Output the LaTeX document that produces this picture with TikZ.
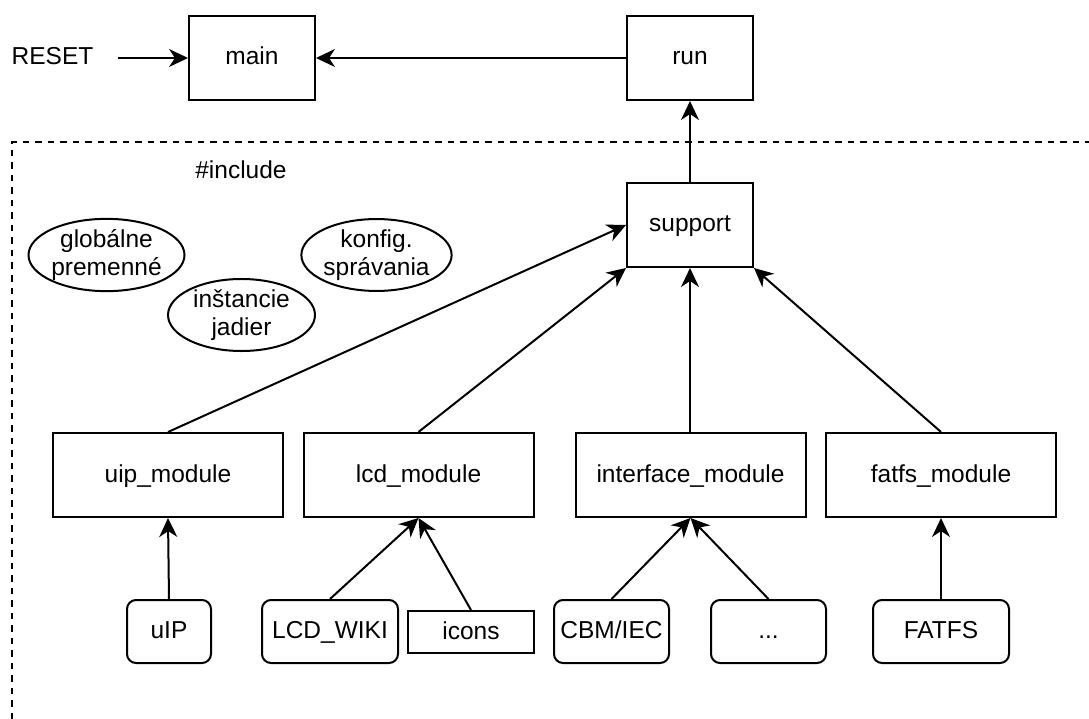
\documentclass[tikz,border=0pt]{standalone}
\usepackage{fontspec}
\setmainfont{Liberation Sans}
\usetikzlibrary{arrows.meta,shapes.geometric}
\begin{document}
\begin{tikzpicture}[x=1pt,y=-1pt,
  every node/.style={font=\fontsize{24.5}{28}\selectfont, inner sep=0pt},
  one/.style={text height=18pt, text depth=4pt},
  box/.style={one, draw, line width=2pt, minimum width=126pt, minimum height=84pt},
  modbox/.style={one, draw, line width=2pt, minimum width=230pt, minimum height=84pt},
  rbox/.style={one, draw, line width=2pt, rounded corners=9pt, minimum height=63pt},
  oval/.style={draw, line width=2pt, ellipse, minimum width=147pt, minimum height=70pt, align=center},
  arr/.style={line width=2pt, -{Stealth[length=19pt,width=18pt,inset=6pt]}},
  frame/.style={line width=2pt, dash pattern=on 6.5pt off 6pt}
]
\useasboundingbox (0,0) rectangle (1089,719);
\fill[white] (0,0) rectangle (1089,719);

% dashed include frame
\coordinate (fbl) at (12,719);
\coordinate (ftl) at (12,142);
\coordinate (ftr) at (1089,142);
\draw[frame] (fbl) -- (ftl) -- (ftr);

% top row
\node[one, inner xsep=24pt] (reset) at (52.5,58) {RESET};
\node[box] (main) at (252,58) {main};
\node[box] (run) at (690,58) {run};

\node[one] (incl) at (241,172) {\#include};
\node[box] (support) at (690,225) {support};

% ovals
\node[oval] (glob) at (106.5,255) {globálne\\premenné};
\node[oval] (inst) at (241.5,315) {inštancie\\jadier};
\node[oval] (konf) at (376.5,255) {konfig.\\správania};

% modules
\node[modbox] (uip) at (168,475) {uip\_module};
\node[modbox] (lcd) at (418.5,475) {lcd\_module};
\node[modbox] (iface) at (690.5,475) {interface\_module};
\node[modbox] (fatfs) at (941,475) {fatfs\_module};

% libraries
\node[rbox, minimum width=84pt] (uIP) at (169,631.5) {uIP};
\node[rbox, minimum width=136pt] (lcdwiki) at (330,631.5) {LCD\_WIKI};
\node[one, draw, line width=2pt, minimum width=126pt, minimum height=42pt] (icons) at (471,632) {icons};
\node[rbox, minimum width=115pt] (cbm) at (611.5,631.5) {CBM/IEC};
\node[rbox, minimum width=115pt] (dots) at (768.5,631.5) {...};
\node[rbox, minimum width=136pt] (fatfslib) at (941,631.5) {FATFS};

% connectors
\draw[arr] (reset.east) -- (main.west);
\draw[arr] (run.west) -- (main.east);
\draw[arr] (support.north) -- (run.south);
\draw[arr] (uip.north) -- (support.west);
\draw[arr] (lcd.north) -- (support.south west);
\draw[arr] (support.south |- iface.north) -- (support.south);
\draw[arr] (fatfs.north) -- (support.south east);
\draw[arr] (uIP.north) -- (uip.south);
\draw[arr] (lcdwiki.north) -- (lcd.south);
\draw[arr] (icons.north) -- (lcd.south);
\draw[arr] (cbm.north) -- (iface.south);
\draw[arr] (dots.north) -- (iface.south);
\draw[arr] (fatfslib.north) -- (fatfs.south);
\end{tikzpicture}
\end{document}
